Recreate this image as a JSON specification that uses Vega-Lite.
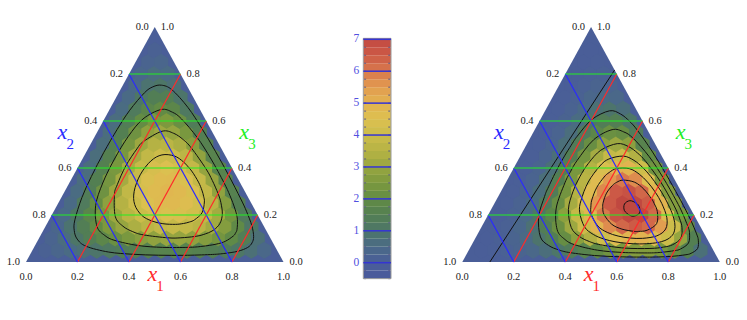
{
"$schema":"https://vega.github.io/schema/vega-lite/v6.json",
"padding":0,
"background":"white",
"spacing":0,
"bounds":"flush",
"config":{"view":{"stroke":null},"concat":{"spacing":0},"text":{"font":"Liberation Serif, Times New Roman, DejaVu Serif, serif"}},
"resolve":{"scale":{"x":"independent","y":"independent","color":"shared","stroke":"shared","fill":"shared"}},
"datasets":{
"L":[
{"x1":0.05,"x3":0.05,"d":0.13},{"x1":0.05,"x3":0.1,"d":0.25},{"x1":0.05,"x3":0.15,"d":0.35},{"x1":0.05,"x3":0.2,"d":0.44},{"x1":0.05,"x3":0.25,"d":0.51},{"x1":0.05,"x3":0.3,"d":0.57},{"x1":0.05,"x3":0.35,"d":0.61},{"x1":0.05,"x3":0.4,"d":0.64},{"x1":0.05,"x3":0.45,"d":0.66},{"x1":0.05,"x3":0.5,"d":0.66},{"x1":0.05,"x3":0.55,"d":0.64},{"x1":0.05,"x3":0.6,"d":0.61},{"x1":0.05,"x3":0.65,"d":0.57},{"x1":0.05,"x3":0.7,"d":0.51},{"x1":0.05,"x3":0.75,"d":0.44},{"x1":0.05,"x3":0.8,"d":0.35},{"x1":0.05,"x3":0.85,"d":0.25},{"x1":0.05,"x3":0.9,"d":0.13},
{"x1":0.1,"x3":0.05,"d":0.33},{"x1":0.1,"x3":0.1,"d":0.62},{"x1":0.1,"x3":0.15,"d":0.87},{"x1":0.1,"x3":0.2,"d":1.08},{"x1":0.1,"x3":0.25,"d":1.25},{"x1":0.1,"x3":0.3,"d":1.39},{"x1":0.1,"x3":0.35,"d":1.49},{"x1":0.1,"x3":0.4,"d":1.54},{"x1":0.1,"x3":0.45,"d":1.56},{"x1":0.1,"x3":0.5,"d":1.54},{"x1":0.1,"x3":0.55,"d":1.49},{"x1":0.1,"x3":0.6,"d":1.39},{"x1":0.1,"x3":0.65,"d":1.25},{"x1":0.1,"x3":0.7,"d":1.08},{"x1":0.1,"x3":0.75,"d":0.87},{"x1":0.1,"x3":0.8,"d":0.62},{"x1":0.1,"x3":0.85,"d":0.33},
{"x1":0.15,"x3":0.05,"d":0.54},{"x1":0.15,"x3":0.1,"d":1.02},{"x1":0.15,"x3":0.15,"d":1.43},{"x1":0.15,"x3":0.2,"d":1.77},{"x1":0.15,"x3":0.25,"d":2.04},{"x1":0.15,"x3":0.3,"d":2.25},{"x1":0.15,"x3":0.35,"d":2.38},{"x1":0.15,"x3":0.4,"d":2.45},{"x1":0.15,"x3":0.45,"d":2.45},{"x1":0.15,"x3":0.5,"d":2.38},{"x1":0.15,"x3":0.55,"d":2.25},{"x1":0.15,"x3":0.6,"d":2.04},{"x1":0.15,"x3":0.65,"d":1.77},{"x1":0.15,"x3":0.7,"d":1.43},{"x1":0.15,"x3":0.75,"d":1.02},{"x1":0.15,"x3":0.8,"d":0.54},
{"x1":0.2,"x3":0.05,"d":0.76},{"x1":0.2,"x3":0.1,"d":1.43},{"x1":0.2,"x3":0.15,"d":1.99},{"x1":0.2,"x3":0.2,"d":2.45},{"x1":0.2,"x3":0.25,"d":2.8},{"x1":0.2,"x3":0.3,"d":3.06},{"x1":0.2,"x3":0.35,"d":3.21},{"x1":0.2,"x3":0.4,"d":3.26},{"x1":0.2,"x3":0.45,"d":3.21},{"x1":0.2,"x3":0.5,"d":3.06},{"x1":0.2,"x3":0.55,"d":2.8},{"x1":0.2,"x3":0.6,"d":2.45},{"x1":0.2,"x3":0.65,"d":1.99},{"x1":0.2,"x3":0.7,"d":1.43},{"x1":0.2,"x3":0.75,"d":0.76},
{"x1":0.25,"x3":0.05,"d":0.97},{"x1":0.25,"x3":0.1,"d":1.81},{"x1":0.25,"x3":0.15,"d":2.51},{"x1":0.25,"x3":0.2,"d":3.06},{"x1":0.25,"x3":0.25,"d":3.48},{"x1":0.25,"x3":0.3,"d":3.76},{"x1":0.25,"x3":0.35,"d":3.9},{"x1":0.25,"x3":0.4,"d":3.9},{"x1":0.25,"x3":0.45,"d":3.76},{"x1":0.25,"x3":0.5,"d":3.48},{"x1":0.25,"x3":0.55,"d":3.06},{"x1":0.25,"x3":0.6,"d":2.51},{"x1":0.25,"x3":0.65,"d":1.81},{"x1":0.25,"x3":0.7,"d":0.97},
{"x1":0.3,"x3":0.05,"d":1.17},{"x1":0.3,"x3":0.1,"d":2.16},{"x1":0.3,"x3":0.15,"d":2.96},{"x1":0.3,"x3":0.2,"d":3.59},{"x1":0.3,"x3":0.25,"d":4.04},{"x1":0.3,"x3":0.3,"d":4.31},{"x1":0.3,"x3":0.35,"d":4.4},{"x1":0.3,"x3":0.4,"d":4.31},{"x1":0.3,"x3":0.45,"d":4.04},{"x1":0.3,"x3":0.5,"d":3.59},{"x1":0.3,"x3":0.55,"d":2.96},{"x1":0.3,"x3":0.6,"d":2.16},{"x1":0.3,"x3":0.65,"d":1.17},
{"x1":0.35,"x3":0.05,"d":1.34},{"x1":0.35,"x3":0.1,"d":2.45},{"x1":0.35,"x3":0.15,"d":3.34},{"x1":0.35,"x3":0.2,"d":4.01},{"x1":0.35,"x3":0.25,"d":4.46},{"x1":0.35,"x3":0.3,"d":4.68},{"x1":0.35,"x3":0.35,"d":4.68},{"x1":0.35,"x3":0.4,"d":4.46},{"x1":0.35,"x3":0.45,"d":4.01},{"x1":0.35,"x3":0.5,"d":3.34},{"x1":0.35,"x3":0.55,"d":2.45},{"x1":0.35,"x3":0.6,"d":1.34},
{"x1":0.4,"x3":0.05,"d":1.48},{"x1":0.4,"x3":0.1,"d":2.69},{"x1":0.4,"x3":0.15,"d":3.63},{"x1":0.4,"x3":0.2,"d":4.3},{"x1":0.4,"x3":0.25,"d":4.7},{"x1":0.4,"x3":0.3,"d":4.84},{"x1":0.4,"x3":0.35,"d":4.7},{"x1":0.4,"x3":0.4,"d":4.3},{"x1":0.4,"x3":0.45,"d":3.63},{"x1":0.4,"x3":0.5,"d":2.69},{"x1":0.4,"x3":0.55,"d":1.48},
{"x1":0.45,"x3":0.05,"d":1.59},{"x1":0.45,"x3":0.1,"d":2.85},{"x1":0.45,"x3":0.15,"d":3.8},{"x1":0.45,"x3":0.2,"d":4.44},{"x1":0.45,"x3":0.25,"d":4.76},{"x1":0.45,"x3":0.3,"d":4.76},{"x1":0.45,"x3":0.35,"d":4.44},{"x1":0.45,"x3":0.4,"d":3.8},{"x1":0.45,"x3":0.45,"d":2.85},{"x1":0.45,"x3":0.5,"d":1.59},
{"x1":0.5,"x3":0.05,"d":1.65},{"x1":0.5,"x3":0.1,"d":2.94},{"x1":0.5,"x3":0.15,"d":3.86},{"x1":0.5,"x3":0.2,"d":4.41},{"x1":0.5,"x3":0.25,"d":4.59},{"x1":0.5,"x3":0.3,"d":4.41},{"x1":0.5,"x3":0.35,"d":3.86},{"x1":0.5,"x3":0.4,"d":2.94},{"x1":0.5,"x3":0.45,"d":1.65},
{"x1":0.55,"x3":0.05,"d":1.68},{"x1":0.55,"x3":0.1,"d":2.94},{"x1":0.55,"x3":0.15,"d":3.78},{"x1":0.55,"x3":0.2,"d":4.2},{"x1":0.55,"x3":0.25,"d":4.2},{"x1":0.55,"x3":0.3,"d":3.78},{"x1":0.55,"x3":0.35,"d":2.94},{"x1":0.55,"x3":0.4,"d":1.68},
{"x1":0.6,"x3":0.05,"d":1.66},{"x1":0.6,"x3":0.1,"d":2.85},{"x1":0.6,"x3":0.15,"d":3.56},{"x1":0.6,"x3":0.2,"d":3.79},{"x1":0.6,"x3":0.25,"d":3.56},{"x1":0.6,"x3":0.3,"d":2.85},{"x1":0.6,"x3":0.35,"d":1.66},
{"x1":0.65,"x3":0.05,"d":1.59},{"x1":0.65,"x3":0.1,"d":2.65},{"x1":0.65,"x3":0.15,"d":3.18},{"x1":0.65,"x3":0.2,"d":3.18},{"x1":0.65,"x3":0.25,"d":2.65},{"x1":0.65,"x3":0.3,"d":1.59},
{"x1":0.7,"x3":0.05,"d":1.47},{"x1":0.7,"x3":0.1,"d":2.35},{"x1":0.7,"x3":0.15,"d":2.65},{"x1":0.7,"x3":0.2,"d":2.35},{"x1":0.7,"x3":0.25,"d":1.47},
{"x1":0.75,"x3":0.05,"d":1.3},{"x1":0.75,"x3":0.1,"d":1.94},{"x1":0.75,"x3":0.15,"d":1.94},{"x1":0.75,"x3":0.2,"d":1.3},
{"x1":0.8,"x3":0.05,"d":1.06},{"x1":0.8,"x3":0.1,"d":1.42},{"x1":0.8,"x3":0.15,"d":1.06},
{"x1":0.85,"x3":0.05,"d":0.77},{"x1":0.85,"x3":0.1,"d":0.77},
{"x1":0.9,"x3":0.05,"d":0.42}
],
"R":[
{"x1":0.05,"x3":0.05,"d":0.01},{"x1":0.05,"x3":0.1,"d":0.01},{"x1":0.05,"x3":0.15,"d":0.02},{"x1":0.05,"x3":0.2,"d":0.02},{"x1":0.05,"x3":0.25,"d":0.03},{"x1":0.05,"x3":0.3,"d":0.03},{"x1":0.05,"x3":0.35,"d":0.03},{"x1":0.05,"x3":0.4,"d":0.03},{"x1":0.05,"x3":0.45,"d":0.04},{"x1":0.05,"x3":0.5,"d":0.04},{"x1":0.05,"x3":0.55,"d":0.03},{"x1":0.05,"x3":0.6,"d":0.03},{"x1":0.05,"x3":0.65,"d":0.03},{"x1":0.05,"x3":0.7,"d":0.03},{"x1":0.05,"x3":0.75,"d":0.02},{"x1":0.05,"x3":0.8,"d":0.02},{"x1":0.05,"x3":0.85,"d":0.01},{"x1":0.05,"x3":0.9,"d":0.01},
{"x1":0.1,"x3":0.05,"d":0.04},{"x1":0.1,"x3":0.1,"d":0.08},{"x1":0.1,"x3":0.15,"d":0.12},{"x1":0.1,"x3":0.2,"d":0.16},{"x1":0.1,"x3":0.25,"d":0.19},{"x1":0.1,"x3":0.3,"d":0.21},{"x1":0.1,"x3":0.35,"d":0.23},{"x1":0.1,"x3":0.4,"d":0.24},{"x1":0.1,"x3":0.45,"d":0.25},{"x1":0.1,"x3":0.5,"d":0.24},{"x1":0.1,"x3":0.55,"d":0.23},{"x1":0.1,"x3":0.6,"d":0.21},{"x1":0.1,"x3":0.65,"d":0.19},{"x1":0.1,"x3":0.7,"d":0.16},{"x1":0.1,"x3":0.75,"d":0.12},{"x1":0.1,"x3":0.8,"d":0.08},{"x1":0.1,"x3":0.85,"d":0.04},
{"x1":0.15,"x3":0.05,"d":0.11},{"x1":0.15,"x3":0.1,"d":0.24},{"x1":0.15,"x3":0.15,"d":0.37},{"x1":0.15,"x3":0.2,"d":0.48},{"x1":0.15,"x3":0.25,"d":0.57},{"x1":0.15,"x3":0.3,"d":0.65},{"x1":0.15,"x3":0.35,"d":0.7},{"x1":0.15,"x3":0.4,"d":0.72},{"x1":0.15,"x3":0.45,"d":0.72},{"x1":0.15,"x3":0.5,"d":0.7},{"x1":0.15,"x3":0.55,"d":0.65},{"x1":0.15,"x3":0.6,"d":0.57},{"x1":0.15,"x3":0.65,"d":0.48},{"x1":0.15,"x3":0.7,"d":0.37},{"x1":0.15,"x3":0.75,"d":0.24},{"x1":0.15,"x3":0.8,"d":0.11},
{"x1":0.2,"x3":0.05,"d":0.24},{"x1":0.2,"x3":0.1,"d":0.52},{"x1":0.2,"x3":0.15,"d":0.79},{"x1":0.2,"x3":0.2,"d":1.03},{"x1":0.2,"x3":0.25,"d":1.22},{"x1":0.2,"x3":0.3,"d":1.36},{"x1":0.2,"x3":0.35,"d":1.45},{"x1":0.2,"x3":0.4,"d":1.47},{"x1":0.2,"x3":0.45,"d":1.45},{"x1":0.2,"x3":0.5,"d":1.36},{"x1":0.2,"x3":0.55,"d":1.22},{"x1":0.2,"x3":0.6,"d":1.03},{"x1":0.2,"x3":0.65,"d":0.79},{"x1":0.2,"x3":0.7,"d":0.52},{"x1":0.2,"x3":0.75,"d":0.24},
{"x1":0.25,"x3":0.05,"d":0.43},{"x1":0.25,"x3":0.1,"d":0.93},{"x1":0.25,"x3":0.15,"d":1.4},{"x1":0.25,"x3":0.2,"d":1.8},{"x1":0.25,"x3":0.25,"d":2.12},{"x1":0.25,"x3":0.3,"d":2.33},{"x1":0.25,"x3":0.35,"d":2.44},{"x1":0.25,"x3":0.4,"d":2.44},{"x1":0.25,"x3":0.45,"d":2.33},{"x1":0.25,"x3":0.5,"d":2.12},{"x1":0.25,"x3":0.55,"d":1.8},{"x1":0.25,"x3":0.6,"d":1.4},{"x1":0.25,"x3":0.65,"d":0.93},{"x1":0.25,"x3":0.7,"d":0.43},
{"x1":0.3,"x3":0.05,"d":0.68},{"x1":0.3,"x3":0.1,"d":1.46},{"x1":0.3,"x3":0.15,"d":2.18},{"x1":0.3,"x3":0.2,"d":2.77},{"x1":0.3,"x3":0.25,"d":3.21},{"x1":0.3,"x3":0.3,"d":3.47},{"x1":0.3,"x3":0.35,"d":3.57},{"x1":0.3,"x3":0.4,"d":3.47},{"x1":0.3,"x3":0.45,"d":3.21},{"x1":0.3,"x3":0.5,"d":2.77},{"x1":0.3,"x3":0.55,"d":2.18},{"x1":0.3,"x3":0.6,"d":1.46},{"x1":0.3,"x3":0.65,"d":0.68},
{"x1":0.35,"x3":0.05,"d":0.98},{"x1":0.35,"x3":0.1,"d":2.08},{"x1":0.35,"x3":0.15,"d":3.07},{"x1":0.35,"x3":0.2,"d":3.85},{"x1":0.35,"x3":0.25,"d":4.39},{"x1":0.35,"x3":0.3,"d":4.67},{"x1":0.35,"x3":0.35,"d":4.67},{"x1":0.35,"x3":0.4,"d":4.39},{"x1":0.35,"x3":0.45,"d":3.85},{"x1":0.35,"x3":0.5,"d":3.07},{"x1":0.35,"x3":0.55,"d":2.08},{"x1":0.35,"x3":0.6,"d":0.98},
{"x1":0.4,"x3":0.05,"d":1.31},{"x1":0.4,"x3":0.1,"d":2.76},{"x1":0.4,"x3":0.15,"d":4.01},{"x1":0.4,"x3":0.2,"d":4.96},{"x1":0.4,"x3":0.25,"d":5.55},{"x1":0.4,"x3":0.3,"d":5.75},{"x1":0.4,"x3":0.35,"d":5.55},{"x1":0.4,"x3":0.4,"d":4.96},{"x1":0.4,"x3":0.45,"d":4.01},{"x1":0.4,"x3":0.5,"d":2.76},{"x1":0.4,"x3":0.55,"d":1.31},
{"x1":0.45,"x3":0.05,"d":1.65},{"x1":0.45,"x3":0.1,"d":3.44},{"x1":0.45,"x3":0.15,"d":4.93},{"x1":0.45,"x3":0.2,"d":5.98},{"x1":0.45,"x3":0.25,"d":6.52},{"x1":0.45,"x3":0.3,"d":6.52},{"x1":0.45,"x3":0.35,"d":5.98},{"x1":0.45,"x3":0.4,"d":4.93},{"x1":0.45,"x3":0.45,"d":3.44},{"x1":0.45,"x3":0.5,"d":1.65},
{"x1":0.5,"x3":0.05,"d":1.98},{"x1":0.5,"x3":0.1,"d":4.07},{"x1":0.5,"x3":0.15,"d":5.72},{"x1":0.5,"x3":0.2,"d":6.76},{"x1":0.5,"x3":0.25,"d":7.12},{"x1":0.5,"x3":0.3,"d":6.76},{"x1":0.5,"x3":0.35,"d":5.72},{"x1":0.5,"x3":0.4,"d":4.07},{"x1":0.5,"x3":0.45,"d":1.98},
{"x1":0.55,"x3":0.05,"d":2.28},{"x1":0.55,"x3":0.1,"d":4.59},{"x1":0.55,"x3":0.15,"d":6.28},{"x1":0.55,"x3":0.2,"d":7.17},{"x1":0.55,"x3":0.25,"d":7.17},{"x1":0.55,"x3":0.3,"d":6.28},{"x1":0.55,"x3":0.35,"d":4.59},{"x1":0.55,"x3":0.4,"d":2.28},
{"x1":0.6,"x3":0.05,"d":2.5},{"x1":0.6,"x3":0.1,"d":4.91},{"x1":0.6,"x3":0.15,"d":6.49},{"x1":0.6,"x3":0.2,"d":7.04},{"x1":0.6,"x3":0.25,"d":6.49},{"x1":0.6,"x3":0.3,"d":4.91},{"x1":0.6,"x3":0.35,"d":2.5},
{"x1":0.65,"x3":0.05,"d":2.63},{"x1":0.65,"x3":0.1,"d":4.97},{"x1":0.65,"x3":0.15,"d":6.25},{"x1":0.65,"x3":0.2,"d":6.25},{"x1":0.65,"x3":0.25,"d":4.97},{"x1":0.65,"x3":0.3,"d":2.63},
{"x1":0.7,"x3":0.05,"d":2.61},{"x1":0.7,"x3":0.1,"d":4.7},{"x1":0.7,"x3":0.15,"d":5.45},{"x1":0.7,"x3":0.2,"d":4.7},{"x1":0.7,"x3":0.25,"d":2.61},
{"x1":0.75,"x3":0.05,"d":2.43},{"x1":0.75,"x3":0.1,"d":4.04},{"x1":0.75,"x3":0.15,"d":4.04},{"x1":0.75,"x3":0.2,"d":2.43},
{"x1":0.8,"x3":0.05,"d":2.06},{"x1":0.8,"x3":0.1,"d":2.95},{"x1":0.8,"x3":0.15,"d":2.06},
{"x1":0.85,"x3":0.05,"d":1.49},{"x1":0.85,"x3":0.1,"d":1.49},
{"x1":0.9,"x3":0.05,"d":0.74}
],
"LC":[
{"lev":1,"o":0,"x1":0.069,"x3":0.4655},{"lev":1,"o":1,"x1":0.072,"x3":0.5645},{"lev":1,"o":2,"x1":0.08,"x3":0.6459},{"lev":1,"o":3,"x1":0.1,"x3":0.7201},{"lev":1,"o":4,"x1":0.12,"x3":0.7454},{"lev":1,"o":5,"x1":0.15,"x3":0.7524},{"lev":1,"o":6,"x1":0.2,"x3":0.7331},{"lev":1,"o":7,"x1":0.3,"x3":0.6577},{"lev":1,"o":8,"x1":0.4,"x3":0.5672},{"lev":1,"o":9,"x1":0.5,"x3":0.4711},{"lev":1,"o":10,"x1":0.6,"x3":0.3716},{"lev":1,"o":11,"x1":0.7,"x3":0.2683},{"lev":1,"o":12,"x1":0.75,"x3":0.2139},{"lev":1,"o":13,"x1":0.8,"x3":0.1543},{"lev":1,"o":14,"x1":0.83,"x3":0.108},{"lev":1,"o":15,"x1":0.837,"x3":0.0815},{"lev":1,"o":16,"x1":0.83,"x3":0.062},{"lev":1,"o":17,"x1":0.8,"x3":0.0457},{"lev":1,"o":18,"x1":0.75,"x3":0.0361},{"lev":1,"o":19,"x1":0.7,"x3":0.0317},{"lev":1,"o":20,"x1":0.6,"x3":0.0284},{"lev":1,"o":21,"x1":0.5,"x3":0.0289},{"lev":1,"o":22,"x1":0.4,"x3":0.0328},{"lev":1,"o":23,"x1":0.3,"x3":0.0423},{"lev":1,"o":24,"x1":0.2,"x3":0.0669},{"lev":1,"o":25,"x1":0.15,"x3":0.0976},{"lev":1,"o":26,"x1":0.12,"x3":0.1346},{"lev":1,"o":27,"x1":0.1,"x3":0.1799},{"lev":1,"o":28,"x1":0.08,"x3":0.2741},{"lev":1,"o":29,"x1":0.072,"x3":0.3635},
{"lev":2,"o":0,"x1":0.1245,"x3":0.4378},{"lev":2,"o":1,"x1":0.13,"x3":0.5339},{"lev":2,"o":2,"x1":0.15,"x3":0.6087},{"lev":2,"o":3,"x1":0.2,"x3":0.6487},{"lev":2,"o":4,"x1":0.25,"x3":0.6373},{"lev":2,"o":5,"x1":0.3,"x3":0.6085},{"lev":2,"o":6,"x1":0.4,"x3":0.5298},{"lev":2,"o":7,"x1":0.5,"x3":0.4378},{"lev":2,"o":8,"x1":0.6,"x3":0.3376},{"lev":2,"o":9,"x1":0.65,"x3":0.2835},{"lev":2,"o":10,"x1":0.7,"x3":0.2242},{"lev":2,"o":11,"x1":0.73,"x3":0.1819},{"lev":2,"o":12,"x1":0.75,"x3":0.139},{"lev":2,"o":13,"x1":0.752,"x3":0.124},{"lev":2,"o":14,"x1":0.75,"x3":0.111},{"lev":2,"o":15,"x1":0.73,"x3":0.0881},{"lev":2,"o":16,"x1":0.7,"x3":0.0758},{"lev":2,"o":17,"x1":0.65,"x3":0.0665},{"lev":2,"o":18,"x1":0.6,"x3":0.0624},{"lev":2,"o":19,"x1":0.5,"x3":0.0622},{"lev":2,"o":20,"x1":0.4,"x3":0.0702},{"lev":2,"o":21,"x1":0.3,"x3":0.0915},{"lev":2,"o":22,"x1":0.25,"x3":0.1127},{"lev":2,"o":23,"x1":0.2,"x3":0.1513},{"lev":2,"o":24,"x1":0.15,"x3":0.2413},{"lev":2,"o":25,"x1":0.13,"x3":0.3361},
{"lev":3,"o":0,"x1":0.183,"x3":0.4085},{"lev":3,"o":1,"x1":0.19,"x3":0.4811},{"lev":3,"o":2,"x1":0.2,"x3":0.5131},{"lev":3,"o":3,"x1":0.25,"x3":0.5564},{"lev":3,"o":4,"x1":0.3,"x3":0.5475},{"lev":3,"o":5,"x1":0.35,"x3":0.5209},{"lev":3,"o":6,"x1":0.4,"x3":0.4849},{"lev":3,"o":7,"x1":0.5,"x3":0.3972},{"lev":3,"o":8,"x1":0.55,"x3":0.347},{"lev":3,"o":9,"x1":0.6,"x3":0.2915},{"lev":3,"o":10,"x1":0.63,"x3":0.2534},{"lev":3,"o":11,"x1":0.66,"x3":0.2049},{"lev":3,"o":12,"x1":0.671,"x3":0.1645},{"lev":3,"o":13,"x1":0.66,"x3":0.1351},{"lev":3,"o":14,"x1":0.63,"x3":0.1166},{"lev":3,"o":15,"x1":0.6,"x3":0.1085},{"lev":3,"o":16,"x1":0.55,"x3":0.103},{"lev":3,"o":17,"x1":0.5,"x3":0.1028},{"lev":3,"o":18,"x1":0.4,"x3":0.1151},{"lev":3,"o":19,"x1":0.35,"x3":0.1291},{"lev":3,"o":20,"x1":0.3,"x3":0.1525},{"lev":3,"o":21,"x1":0.25,"x3":0.1936},{"lev":3,"o":22,"x1":0.2,"x3":0.2869},{"lev":3,"o":23,"x1":0.19,"x3":0.3289},
{"lev":4,"o":0,"x1":0.258,"x3":0.371},{"lev":4,"o":1,"x1":0.27,"x3":0.43},{"lev":4,"o":2,"x1":0.3,"x3":0.4557},{"lev":4,"o":3,"x1":0.35,"x3":0.4513},{"lev":4,"o":4,"x1":0.4,"x3":0.4249},{"lev":4,"o":5,"x1":0.45,"x3":0.387},{"lev":4,"o":6,"x1":0.5,"x3":0.3398},{"lev":4,"o":7,"x1":0.53,"x3":0.306},{"lev":4,"o":8,"x1":0.55,"x3":0.2796},{"lev":4,"o":9,"x1":0.565,"x3":0.2554},{"lev":4,"o":10,"x1":0.579,"x3":0.2105},{"lev":4,"o":11,"x1":0.565,"x3":0.1796},{"lev":4,"o":12,"x1":0.55,"x3":0.1704},{"lev":4,"o":13,"x1":0.53,"x3":0.164},{"lev":4,"o":14,"x1":0.5,"x3":0.1602},{"lev":4,"o":15,"x1":0.45,"x3":0.163},{"lev":4,"o":16,"x1":0.4,"x3":0.1751},{"lev":4,"o":17,"x1":0.35,"x3":0.1987},{"lev":4,"o":18,"x1":0.3,"x3":0.2443},{"lev":4,"o":19,"x1":0.27,"x3":0.3}
],
"RC":[
{"lev":1,"o":0,"x1":0.1705,"x3":0.4148},{"lev":1,"o":1,"x1":0.175,"x3":0.5052},{"lev":1,"o":2,"x1":0.18,"x3":0.5409},{"lev":1,"o":3,"x1":0.2,"x3":0.6068},{"lev":1,"o":4,"x1":0.25,"x3":0.6433},{"lev":1,"o":5,"x1":0.3,"x3":0.6296},{"lev":1,"o":6,"x1":0.35,"x3":0.5989},{"lev":1,"o":7,"x1":0.4,"x3":0.5604},{"lev":1,"o":8,"x1":0.5,"x3":0.4725},{"lev":1,"o":9,"x1":0.6,"x3":0.3778},{"lev":1,"o":10,"x1":0.7,"x3":0.2792},{"lev":1,"o":11,"x1":0.75,"x3":0.2285},{"lev":1,"o":12,"x1":0.8,"x3":0.1761},{"lev":1,"o":13,"x1":0.85,"x3":0.1196},{"lev":1,"o":14,"x1":0.87,"x3":0.093},{"lev":1,"o":15,"x1":0.885,"x3":0.0575},{"lev":1,"o":16,"x1":0.87,"x3":0.037},{"lev":1,"o":17,"x1":0.85,"x3":0.0304},{"lev":1,"o":18,"x1":0.8,"x3":0.0239},{"lev":1,"o":19,"x1":0.75,"x3":0.0215},{"lev":1,"o":20,"x1":0.7,"x3":0.0208},{"lev":1,"o":21,"x1":0.6,"x3":0.0222},{"lev":1,"o":22,"x1":0.5,"x3":0.0275},{"lev":1,"o":23,"x1":0.4,"x3":0.0396},{"lev":1,"o":24,"x1":0.35,"x3":0.0511},{"lev":1,"o":25,"x1":0.3,"x3":0.0704},{"lev":1,"o":26,"x1":0.25,"x3":0.1067},{"lev":1,"o":27,"x1":0.2,"x3":0.1932},{"lev":1,"o":28,"x1":0.18,"x3":0.2791},{"lev":1,"o":29,"x1":0.175,"x3":0.3198},
{"lev":2,"o":0,"x1":0.228,"x3":0.386},{"lev":2,"o":1,"x1":0.23,"x3":0.433},{"lev":2,"o":2,"x1":0.25,"x3":0.5204},{"lev":2,"o":3,"x1":0.3,"x3":0.563},{"lev":2,"o":4,"x1":0.35,"x3":0.5537},{"lev":2,"o":5,"x1":0.4,"x3":0.5266},{"lev":2,"o":6,"x1":0.5,"x3":0.4497},{"lev":2,"o":7,"x1":0.6,"x3":0.3593},{"lev":2,"o":8,"x1":0.7,"x3":0.2614},{"lev":2,"o":9,"x1":0.75,"x3":0.2091},{"lev":2,"o":10,"x1":0.8,"x3":0.1517},{"lev":2,"o":11,"x1":0.82,"x3":0.1245},{"lev":2,"o":12,"x1":0.838,"x3":0.081},{"lev":2,"o":13,"x1":0.82,"x3":0.0555},{"lev":2,"o":14,"x1":0.8,"x3":0.0483},{"lev":2,"o":15,"x1":0.75,"x3":0.0409},{"lev":2,"o":16,"x1":0.7,"x3":0.0386},{"lev":2,"o":17,"x1":0.6,"x3":0.0407},{"lev":2,"o":18,"x1":0.5,"x3":0.0503},{"lev":2,"o":19,"x1":0.4,"x3":0.0734},{"lev":2,"o":20,"x1":0.35,"x3":0.0963},{"lev":2,"o":21,"x1":0.3,"x3":0.137},{"lev":2,"o":22,"x1":0.25,"x3":0.2296},{"lev":2,"o":23,"x1":0.23,"x3":0.337},
{"lev":3,"o":0,"x1":0.275,"x3":0.3625},{"lev":3,"o":1,"x1":0.28,"x3":0.4204},{"lev":3,"o":2,"x1":0.3,"x3":0.4757},{"lev":3,"o":3,"x1":0.35,"x3":0.5036},{"lev":3,"o":4,"x1":0.4,"x3":0.4911},{"lev":3,"o":5,"x1":0.45,"x3":0.4629},{"lev":3,"o":6,"x1":0.5,"x3":0.4266},{"lev":3,"o":7,"x1":0.6,"x3":0.3407},{"lev":3,"o":8,"x1":0.7,"x3":0.2424},{"lev":3,"o":9,"x1":0.75,"x3":0.1866},{"lev":3,"o":10,"x1":0.78,"x3":0.1464},{"lev":3,"o":11,"x1":0.798,"x3":0.101},{"lev":3,"o":12,"x1":0.78,"x3":0.0736},{"lev":3,"o":13,"x1":0.75,"x3":0.0634},{"lev":3,"o":14,"x1":0.7,"x3":0.0576},{"lev":3,"o":15,"x1":0.6,"x3":0.0593},{"lev":3,"o":16,"x1":0.5,"x3":0.0734},{"lev":3,"o":17,"x1":0.45,"x3":0.0871},{"lev":3,"o":18,"x1":0.4,"x3":0.1089},{"lev":3,"o":19,"x1":0.35,"x3":0.1464},{"lev":3,"o":20,"x1":0.3,"x3":0.2243},{"lev":3,"o":21,"x1":0.28,"x3":0.2996},
{"lev":4,"o":0,"x1":0.319,"x3":0.3405},{"lev":4,"o":1,"x1":0.33,"x3":0.4085},{"lev":4,"o":2,"x1":0.35,"x3":0.4383},{"lev":4,"o":3,"x1":0.4,"x3":0.4506},{"lev":4,"o":4,"x1":0.45,"x3":0.4327},{"lev":4,"o":5,"x1":0.5,"x3":0.4019},{"lev":4,"o":6,"x1":0.55,"x3":0.3638},{"lev":4,"o":7,"x1":0.6,"x3":0.3206},{"lev":4,"o":8,"x1":0.65,"x3":0.2731},{"lev":4,"o":9,"x1":0.7,"x3":0.2202},{"lev":4,"o":10,"x1":0.73,"x3":0.1833},{"lev":4,"o":11,"x1":0.75,"x3":0.152},{"lev":4,"o":12,"x1":0.7596,"x3":0.1202},{"lev":4,"o":13,"x1":0.75,"x3":0.098},{"lev":4,"o":14,"x1":0.73,"x3":0.0867},{"lev":4,"o":15,"x1":0.7,"x3":0.0798},{"lev":4,"o":16,"x1":0.65,"x3":0.0769},{"lev":4,"o":17,"x1":0.6,"x3":0.0794},{"lev":4,"o":18,"x1":0.55,"x3":0.0862},{"lev":4,"o":19,"x1":0.5,"x3":0.0981},{"lev":4,"o":20,"x1":0.45,"x3":0.1173},{"lev":4,"o":21,"x1":0.4,"x3":0.1494},{"lev":4,"o":22,"x1":0.35,"x3":0.2117},{"lev":4,"o":23,"x1":0.33,"x3":0.2615},
{"lev":5,"o":0,"x1":0.3635,"x3":0.318},{"lev":5,"o":1,"x1":0.37,"x3":0.3616},{"lev":5,"o":2,"x1":0.38,"x3":0.3809},{"lev":5,"o":3,"x1":0.4,"x3":0.3975},{"lev":5,"o":4,"x1":0.45,"x3":0.3972},{"lev":5,"o":5,"x1":0.5,"x3":0.374},{"lev":5,"o":6,"x1":0.55,"x3":0.3396},{"lev":5,"o":7,"x1":0.6,"x3":0.2979},{"lev":5,"o":8,"x1":0.65,"x3":0.2493},{"lev":5,"o":9,"x1":0.7,"x3":0.1886},{"lev":5,"o":10,"x1":0.7195,"x3":0.1403},{"lev":5,"o":11,"x1":0.7,"x3":0.1114},{"lev":5,"o":12,"x1":0.65,"x3":0.1007},{"lev":5,"o":13,"x1":0.6,"x3":0.1021},{"lev":5,"o":14,"x1":0.55,"x3":0.1104},{"lev":5,"o":15,"x1":0.5,"x3":0.126},{"lev":5,"o":16,"x1":0.45,"x3":0.1528},{"lev":5,"o":17,"x1":0.4,"x3":0.2025},{"lev":5,"o":18,"x1":0.38,"x3":0.2391},{"lev":5,"o":19,"x1":0.37,"x3":0.2684},
{"lev":6,"o":0,"x1":0.4136,"x3":0.2932},{"lev":6,"o":1,"x1":0.42,"x3":0.3252},{"lev":6,"o":2,"x1":0.43,"x3":0.339},{"lev":6,"o":3,"x1":0.45,"x3":0.3485},{"lev":6,"o":4,"x1":0.5,"x3":0.3393},{"lev":6,"o":5,"x1":0.55,"x3":0.3101},{"lev":6,"o":6,"x1":0.6,"x3":0.2693},{"lev":6,"o":7,"x1":0.62,"x3":0.2497},{"lev":6,"o":8,"x1":0.65,"x3":0.2147},{"lev":6,"o":9,"x1":0.673,"x3":0.1635},{"lev":6,"o":10,"x1":0.65,"x3":0.1353},{"lev":6,"o":11,"x1":0.62,"x3":0.1303},{"lev":6,"o":12,"x1":0.6,"x3":0.1307},{"lev":6,"o":13,"x1":0.55,"x3":0.1399},{"lev":6,"o":14,"x1":0.5,"x3":0.1607},{"lev":6,"o":15,"x1":0.45,"x3":0.2015},{"lev":6,"o":16,"x1":0.43,"x3":0.231},{"lev":6,"o":17,"x1":0.42,"x3":0.2548},
{"lev":7,"o":0,"x1":0.5065,"x3":0.2468},{"lev":7,"o":1,"x1":0.52,"x3":0.2609},{"lev":7,"o":2,"x1":0.55,"x3":0.2507},{"lev":7,"o":3,"x1":0.57,"x3":0.2346},{"lev":7,"o":4,"x1":0.584,"x3":0.208},{"lev":7,"o":5,"x1":0.57,"x3":0.1954},{"lev":7,"o":6,"x1":0.55,"x3":0.1993},{"lev":7,"o":7,"x1":0.52,"x3":0.2191}
],
"grid":[
{"g":"x1","x1":0.2,"x3":0,"x1b":0.2,"x3b":0.8},{"g":"x1","x1":0.4,"x3":0,"x1b":0.4,"x3b":0.6},{"g":"x1","x1":0.6,"x3":0,"x1b":0.6,"x3b":0.4},{"g":"x1","x1":0.8,"x3":0,"x1b":0.8,"x3b":0.2},
{"g":"x2","x1":0,"x3":0.8,"x1b":0.8,"x3b":0},{"g":"x2","x1":0,"x3":0.6,"x1b":0.6,"x3b":0},{"g":"x2","x1":0,"x3":0.4,"x1b":0.4,"x3b":0},{"g":"x2","x1":0,"x3":0.2,"x1b":0.2,"x3b":0},
{"g":"x3","x1":0,"x3":0.2,"x1b":0.8,"x3b":0.2},{"g":"x3","x1":0,"x3":0.4,"x1b":0.6,"x3b":0.4},{"g":"x3","x1":0,"x3":0.6,"x1b":0.4,"x3b":0.6},{"g":"x3","x1":0,"x3":0.8,"x1b":0.2,"x3b":0.8}
],
"tk":[
{"s":"b","x1":0,"x3":0,"t":"0.0"},{"s":"b","x1":0.2,"x3":0,"t":"0.2"},{"s":"b","x1":0.4,"x3":0,"t":"0.4"},{"s":"b","x1":0.6,"x3":0,"t":"0.6"},{"s":"b","x1":0.8,"x3":0,"t":"0.8"},{"s":"b","x1":1,"x3":0,"t":"1.0"},
{"s":"l","x1":0,"x3":1,"t":"0.0"},{"s":"l","x1":0,"x3":0.8,"t":"0.2"},{"s":"l","x1":0,"x3":0.6,"t":"0.4"},{"s":"l","x1":0,"x3":0.4,"t":"0.6"},{"s":"l","x1":0,"x3":0.2,"t":"0.8"},{"s":"l","x1":0,"x3":0,"t":"1.0"},
{"s":"r","x1":0,"x3":1,"t":"1.0"},{"s":"r","x1":0.2,"x3":0.8,"t":"0.8"},{"s":"r","x1":0.4,"x3":0.6,"t":"0.6"},{"s":"r","x1":0.6,"x3":0.4,"t":"0.4"},{"s":"r","x1":0.8,"x3":0.2,"t":"0.2"},{"s":"r","x1":1,"x3":0,"t":"0.0"}
],
"ttl":[
{"ax":"x1","u":0.4905,"x3":-0.0809,"s":"1"},{"ax":"x2","u":0.1417,"x3":0.5221,"s":"2"},{"ax":"x3","u":0.8474,"x3":0.5221,"s":"3"}
],
"tri":[{"x1":0,"x3":0},{"x1":0,"x3":1},{"x1":1,"x3":0}],
"bands":[
{"lo":-0.5,"hi":-0.25,"v":-0.375},{"lo":-0.25,"hi":0,"v":-0.125},{"lo":0,"hi":0.25,"v":0.125},{"lo":0.25,"hi":0.5,"v":0.375},{"lo":0.5,"hi":0.75,"v":0.625},{"lo":0.75,"hi":1,"v":0.875},{"lo":1,"hi":1.25,"v":1.125},{"lo":1.25,"hi":1.5,"v":1.375},{"lo":1.5,"hi":1.75,"v":1.625},{"lo":1.75,"hi":2,"v":1.875},{"lo":2,"hi":2.25,"v":2.125},{"lo":2.25,"hi":2.5,"v":2.375},{"lo":2.5,"hi":2.75,"v":2.625},{"lo":2.75,"hi":3,"v":2.875},{"lo":3,"hi":3.25,"v":3.125},{"lo":3.25,"hi":3.5,"v":3.375},{"lo":3.5,"hi":3.75,"v":3.625},{"lo":3.75,"hi":4,"v":3.875},{"lo":4,"hi":4.25,"v":4.125},{"lo":4.25,"hi":4.5,"v":4.375},{"lo":4.5,"hi":4.75,"v":4.625},{"lo":4.75,"hi":5,"v":4.875},{"lo":5,"hi":5.25,"v":5.125},{"lo":5.25,"hi":5.5,"v":5.375},{"lo":5.5,"hi":5.75,"v":5.625},{"lo":5.75,"hi":6,"v":5.875},{"lo":6,"hi":6.25,"v":6.125},{"lo":6.25,"hi":6.5,"v":6.375},{"lo":6.5,"hi":6.75,"v":6.625},{"lo":6.75,"hi":7,"v":6.875},{"lo":7,"hi":7.03,"v":7}
],
"cbt":[{"v":0},{"v":1},{"v":2},{"v":3},{"v":4},{"v":5},{"v":6},{"v":7}]
},
"hconcat":[
{
"width":330,"height":320,
"layer":[
{"data":{"name":"tri"},"transform":[{"calculate":"datum.x1 + datum.x3/2","as":"u"}],
 "mark":{"type":"area","color":"#4a5e98","opacity":1},
 "encoding":{"x":{"field":"u","type":"quantitative","scale":{"domain":[-0.10097,1.18058],"nice":false,"zero":false},"axis":null},
  "y":{"field":"x3","type":"quantitative","scale":{"domain":[-0.24681,1.11489],"nice":false,"zero":false},"axis":null},
  "y2":{"datum":0}}},
{"data":{"name":"L"},"transform":[{"calculate":"datum.x1 + datum.x3/2","as":"u"}],
 "mark":{"type":"point","shape":"M0,-1.21L1,-0.605L1,0.605L0,1.21L-1,0.605L-1,-0.605Z","filled":true,"size":200,"opacity":1,"strokeWidth":0},
 "encoding":{"x":{"field":"u","type":"quantitative","scale":{"domain":[-0.10097,1.18058],"nice":false,"zero":false},"axis":null},
  "y":{"field":"x3","type":"quantitative","scale":{"domain":[-0.24681,1.11489],"nice":false,"zero":false},"axis":null},
  "color":{"field":"d","type":"quantitative","legend":null,"scale":{"domain":[-0.5,0,0.5,1,1.5,2,2.5,3,3.5,4,4.5,5,5.5,6,6.5,7,7.05],"range":["#4a5a9c","#4a5e98","#4a6a86","#4d7668","#537f52","#628b45","#7c993e","#98a640","#b6b344","#cbbc4a","#dcc050","#e2b250","#e29c50","#d8784c","#cc5a46","#c24a42","#c04840"],"interpolate":"rgb","clamp":true}}}},
{"data":{"name":"LC"},"transform":[{"calculate":"datum.x1 + datum.x3/2","as":"u"}],
 "mark":{"type":"line","color":"#111111","strokeWidth":1,"interpolate":"cardinal-closed"},
 "encoding":{"x":{"field":"u","type":"quantitative","scale":{"domain":[-0.10097,1.18058],"nice":false,"zero":false},"axis":null},
  "y":{"field":"x3","type":"quantitative","scale":{"domain":[-0.24681,1.11489],"nice":false,"zero":false},"axis":null},
  "detail":{"field":"lev","type":"nominal"},"order":{"field":"o","type":"quantitative"}}},
{"data":{"name":"grid"},"transform":[{"calculate":"datum.x1 + datum.x3/2","as":"u"},{"calculate":"datum.x1b + datum.x3b/2","as":"ub"}],
 "mark":{"type":"rule","strokeWidth":1.2},
 "encoding":{"x":{"field":"u","type":"quantitative","scale":{"domain":[-0.10097,1.18058],"nice":false,"zero":false},"axis":null},
  "y":{"field":"x3","type":"quantitative","scale":{"domain":[-0.24681,1.11489],"nice":false,"zero":false},"axis":null},
  "x2":{"field":"ub"},"y2":{"field":"x3b"},
  "stroke":{"field":"g","type":"nominal","legend":null,"scale":{"domain":["x1","x2","x3"],"range":["#ff2a2a","#2a2aff","#22ee22"]}}}},
{"data":{"name":"tk"},"transform":[{"filter":"datum.s == 'b'"},{"calculate":"datum.x1 + datum.x3/2","as":"u"}],
 "mark":{"type":"text","fontSize":10.5,"color":"#222222","align":"center","baseline":"middle","dy":15},
 "encoding":{"x":{"field":"u","type":"quantitative","scale":{"domain":[-0.10097,1.18058],"nice":false,"zero":false},"axis":null},
  "y":{"field":"x3","type":"quantitative","scale":{"domain":[-0.24681,1.11489],"nice":false,"zero":false},"axis":null},
  "text":{"field":"t"}}},
{"data":{"name":"tk"},"transform":[{"filter":"datum.s == 'l'"},{"calculate":"datum.x1 + datum.x3/2","as":"u"}],
 "mark":{"type":"text","fontSize":10.5,"color":"#222222","align":"right","baseline":"middle","dx":-6},
 "encoding":{"x":{"field":"u","type":"quantitative","scale":{"domain":[-0.10097,1.18058],"nice":false,"zero":false},"axis":null},
  "y":{"field":"x3","type":"quantitative","scale":{"domain":[-0.24681,1.11489],"nice":false,"zero":false},"axis":null},
  "text":{"field":"t"}}},
{"data":{"name":"tk"},"transform":[{"filter":"datum.s == 'r'"},{"calculate":"datum.x1 + datum.x3/2","as":"u"}],
 "mark":{"type":"text","fontSize":10.5,"color":"#222222","align":"left","baseline":"middle","dx":6},
 "encoding":{"x":{"field":"u","type":"quantitative","scale":{"domain":[-0.10097,1.18058],"nice":false,"zero":false},"axis":null},
  "y":{"field":"x3","type":"quantitative","scale":{"domain":[-0.24681,1.11489],"nice":false,"zero":false},"axis":null},
  "text":{"field":"t"}}},
{"data":{"name":"ttl"},
 "mark":{"type":"text","fontSize":22,"fontStyle":"italic","align":"center","baseline":"alphabetic"},
 "encoding":{"x":{"field":"u","type":"quantitative","scale":{"domain":[-0.10097,1.18058],"nice":false,"zero":false},"axis":null},
  "y":{"field":"x3","type":"quantitative","scale":{"domain":[-0.24681,1.11489],"nice":false,"zero":false},"axis":null},
  "text":{"value":"x"},
  "fill":{"field":"ax","type":"nominal","legend":null,"scale":{"domain":["x1","x2","x3"],"range":["#ff2a2a","#2a2aff","#22ee22"]}}}},
{"data":{"name":"ttl"},
 "mark":{"type":"text","fontSize":15,"align":"left","baseline":"alphabetic","dx":4,"dy":10},
 "encoding":{"x":{"field":"u","type":"quantitative","scale":{"domain":[-0.10097,1.18058],"nice":false,"zero":false},"axis":null},
  "y":{"field":"x3","type":"quantitative","scale":{"domain":[-0.24681,1.11489],"nice":false,"zero":false},"axis":null},
  "text":{"field":"s"},
  "fill":{"field":"ax","type":"nominal","legend":null,"scale":{"domain":["x1","x2","x3"],"range":["#ff2a2a","#2a2aff","#22ee22"]}}}}
]
},
{
"width":90,"height":320,
"layer":[
{"data":{"name":"bands"},
 "mark":{"type":"rect","strokeWidth":0},
 "encoding":{"x":{"datum":0,"type":"quantitative","scale":{"domain":[-1.2022,2.0469],"nice":false,"zero":false},"axis":null},"x2":{"datum":1},
  "y":{"field":"lo","type":"quantitative","scale":{"domain":[-1.7955,8.2315],"nice":false,"zero":false},"axis":null},"y2":{"field":"hi"},
  "color":{"field":"v","type":"quantitative","legend":null,"scale":{"domain":[-0.5,0,0.5,1,1.5,2,2.5,3,3.5,4,4.5,5,5.5,6,6.5,7,7.05],"range":["#4a5a9c","#4a5e98","#4a6a86","#4d7668","#537f52","#628b45","#7c993e","#98a640","#b6b344","#cbbc4a","#dcc050","#e2b250","#e29c50","#d8784c","#cc5a46","#c24a42","#c04840"],"interpolate":"rgb","clamp":true}}}},
{"data":{"name":"bands"},
 "mark":{"type":"rule","color":"#5a5a8a","strokeWidth":1},
 "encoding":{"x":{"datum":0.03,"type":"quantitative","scale":{"domain":[-1.2022,2.0469],"nice":false,"zero":false},"axis":null},"x2":{"datum":0.1},
  "y":{"field":"lo","type":"quantitative","scale":{"domain":[-1.7955,8.2315],"nice":false,"zero":false},"axis":null}}},
{"data":{"name":"bands"},
 "mark":{"type":"rule","color":"#5a5a8a","strokeWidth":1},
 "encoding":{"x":{"datum":0.9,"type":"quantitative","scale":{"domain":[-1.2022,2.0469],"nice":false,"zero":false},"axis":null},"x2":{"datum":0.97},
  "y":{"field":"lo","type":"quantitative","scale":{"domain":[-1.7955,8.2315],"nice":false,"zero":false},"axis":null}}},
{"data":{"values":[{"lo":-0.5,"hi":7.03}]},
 "mark":{"type":"rect","fillOpacity":0,"stroke":"#9a9a9a","strokeWidth":1},
 "encoding":{"x":{"datum":0,"type":"quantitative","scale":{"domain":[-1.2022,2.0469],"nice":false,"zero":false},"axis":null},"x2":{"datum":1},
  "y":{"field":"lo","type":"quantitative","scale":{"domain":[-1.7955,8.2315],"nice":false,"zero":false},"axis":null},"y2":{"field":"hi"}}},
{"data":{"name":"cbt"},
 "mark":{"type":"rule","color":"#3434d4","strokeWidth":1.5},
 "encoding":{"x":{"datum":0,"type":"quantitative","scale":{"domain":[-1.2022,2.0469],"nice":false,"zero":false},"axis":null},"x2":{"datum":1},
  "y":{"field":"v","type":"quantitative","scale":{"domain":[-1.7955,8.2315],"nice":false,"zero":false},"axis":null}}},
{"data":{"name":"cbt"},
 "mark":{"type":"text","fontSize":11.5,"color":"#5050e0","align":"right","baseline":"middle","dx":-4},
 "encoding":{"x":{"datum":0,"type":"quantitative","scale":{"domain":[-1.2022,2.0469],"nice":false,"zero":false},"axis":null},
  "y":{"field":"v","type":"quantitative","scale":{"domain":[-1.7955,8.2315],"nice":false,"zero":false},"axis":null},
  "text":{"field":"v","type":"quantitative"}}}
]
},
{
"width":327,"height":320,
"layer":[
{"data":{"name":"tri"},"transform":[{"calculate":"datum.x1 + datum.x3/2","as":"u"}],
 "mark":{"type":"area","color":"#4a5e98","opacity":1},
 "encoding":{"x":{"field":"u","type":"quantitative","scale":{"domain":[-0.16427,1.10563],"nice":false,"zero":false},"axis":null},
  "y":{"field":"x3","type":"quantitative","scale":{"domain":[-0.24681,1.11489],"nice":false,"zero":false},"axis":null},
  "y2":{"datum":0}}},
{"data":{"name":"R"},"transform":[{"calculate":"datum.x1 + datum.x3/2","as":"u"}],
 "mark":{"type":"point","shape":"M0,-1.21L1,-0.605L1,0.605L0,1.21L-1,0.605L-1,-0.605Z","filled":true,"size":200,"opacity":1,"strokeWidth":0},
 "encoding":{"x":{"field":"u","type":"quantitative","scale":{"domain":[-0.16427,1.10563],"nice":false,"zero":false},"axis":null},
  "y":{"field":"x3","type":"quantitative","scale":{"domain":[-0.24681,1.11489],"nice":false,"zero":false},"axis":null},
  "color":{"field":"d","type":"quantitative","legend":null,"scale":{"domain":[-0.5,0,0.5,1,1.5,2,2.5,3,3.5,4,4.5,5,5.5,6,6.5,7,7.05],"range":["#4a5a9c","#4a5e98","#4a6a86","#4d7668","#537f52","#628b45","#7c993e","#98a640","#b6b344","#cbbc4a","#dcc050","#e2b250","#e29c50","#d8784c","#cc5a46","#c24a42","#c04840"],"interpolate":"rgb","clamp":true}}}},
{"data":{"name":"RC"},"transform":[{"calculate":"datum.x1 + datum.x3/2","as":"u"}],
 "mark":{"type":"line","color":"#111111","strokeWidth":1,"interpolate":"cardinal-closed"},
 "encoding":{"x":{"field":"u","type":"quantitative","scale":{"domain":[-0.16427,1.10563],"nice":false,"zero":false},"axis":null},
  "y":{"field":"x3","type":"quantitative","scale":{"domain":[-0.24681,1.11489],"nice":false,"zero":false},"axis":null},
  "detail":{"field":"lev","type":"nominal"},"order":{"field":"o","type":"quantitative"}}},
{"data":{"values":[{"x1":0.107,"x3":0},{"x1":0.183,"x3":0.817}]},"transform":[{"calculate":"datum.x1 + datum.x3/2","as":"u"}],
 "mark":{"type":"line","color":"#111111","strokeWidth":1},
 "encoding":{"x":{"field":"u","type":"quantitative","scale":{"domain":[-0.16427,1.10563],"nice":false,"zero":false},"axis":null},
  "y":{"field":"x3","type":"quantitative","scale":{"domain":[-0.24681,1.11489],"nice":false,"zero":false},"axis":null}}},
{"data":{"name":"grid"},"transform":[{"calculate":"datum.x1 + datum.x3/2","as":"u"},{"calculate":"datum.x1b + datum.x3b/2","as":"ub"}],
 "mark":{"type":"rule","strokeWidth":1.2},
 "encoding":{"x":{"field":"u","type":"quantitative","scale":{"domain":[-0.16427,1.10563],"nice":false,"zero":false},"axis":null},
  "y":{"field":"x3","type":"quantitative","scale":{"domain":[-0.24681,1.11489],"nice":false,"zero":false},"axis":null},
  "x2":{"field":"ub"},"y2":{"field":"x3b"},
  "stroke":{"field":"g","type":"nominal","legend":null,"scale":{"domain":["x1","x2","x3"],"range":["#ff2a2a","#2a2aff","#22ee22"]}}}},
{"data":{"name":"tk"},"transform":[{"filter":"datum.s == 'b'"},{"calculate":"datum.x1 + datum.x3/2","as":"u"}],
 "mark":{"type":"text","fontSize":10.5,"color":"#222222","align":"center","baseline":"middle","dy":15},
 "encoding":{"x":{"field":"u","type":"quantitative","scale":{"domain":[-0.16427,1.10563],"nice":false,"zero":false},"axis":null},
  "y":{"field":"x3","type":"quantitative","scale":{"domain":[-0.24681,1.11489],"nice":false,"zero":false},"axis":null},
  "text":{"field":"t"}}},
{"data":{"name":"tk"},"transform":[{"filter":"datum.s == 'l'"},{"calculate":"datum.x1 + datum.x3/2","as":"u"}],
 "mark":{"type":"text","fontSize":10.5,"color":"#222222","align":"right","baseline":"middle","dx":-6},
 "encoding":{"x":{"field":"u","type":"quantitative","scale":{"domain":[-0.16427,1.10563],"nice":false,"zero":false},"axis":null},
  "y":{"field":"x3","type":"quantitative","scale":{"domain":[-0.24681,1.11489],"nice":false,"zero":false},"axis":null},
  "text":{"field":"t"}}},
{"data":{"name":"tk"},"transform":[{"filter":"datum.s == 'r'"},{"calculate":"datum.x1 + datum.x3/2","as":"u"}],
 "mark":{"type":"text","fontSize":10.5,"color":"#222222","align":"left","baseline":"middle","dx":6},
 "encoding":{"x":{"field":"u","type":"quantitative","scale":{"domain":[-0.16427,1.10563],"nice":false,"zero":false},"axis":null},
  "y":{"field":"x3","type":"quantitative","scale":{"domain":[-0.24681,1.11489],"nice":false,"zero":false},"axis":null},
  "text":{"field":"t"}}},
{"data":{"name":"ttl"},
 "mark":{"type":"text","fontSize":22,"fontStyle":"italic","align":"center","baseline":"alphabetic"},
 "encoding":{"x":{"field":"u","type":"quantitative","scale":{"domain":[-0.16427,1.10563],"nice":false,"zero":false},"axis":null},
  "y":{"field":"x3","type":"quantitative","scale":{"domain":[-0.24681,1.11489],"nice":false,"zero":false},"axis":null},
  "text":{"value":"x"},
  "fill":{"field":"ax","type":"nominal","legend":null,"scale":{"domain":["x1","x2","x3"],"range":["#ff2a2a","#2a2aff","#22ee22"]}}}},
{"data":{"name":"ttl"},
 "mark":{"type":"text","fontSize":15,"align":"left","baseline":"alphabetic","dx":4,"dy":10},
 "encoding":{"x":{"field":"u","type":"quantitative","scale":{"domain":[-0.16427,1.10563],"nice":false,"zero":false},"axis":null},
  "y":{"field":"x3","type":"quantitative","scale":{"domain":[-0.24681,1.11489],"nice":false,"zero":false},"axis":null},
  "text":{"field":"s"},
  "fill":{"field":"ax","type":"nominal","legend":null,"scale":{"domain":["x1","x2","x3"],"range":["#ff2a2a","#2a2aff","#22ee22"]}}}}
]
}
]
}
